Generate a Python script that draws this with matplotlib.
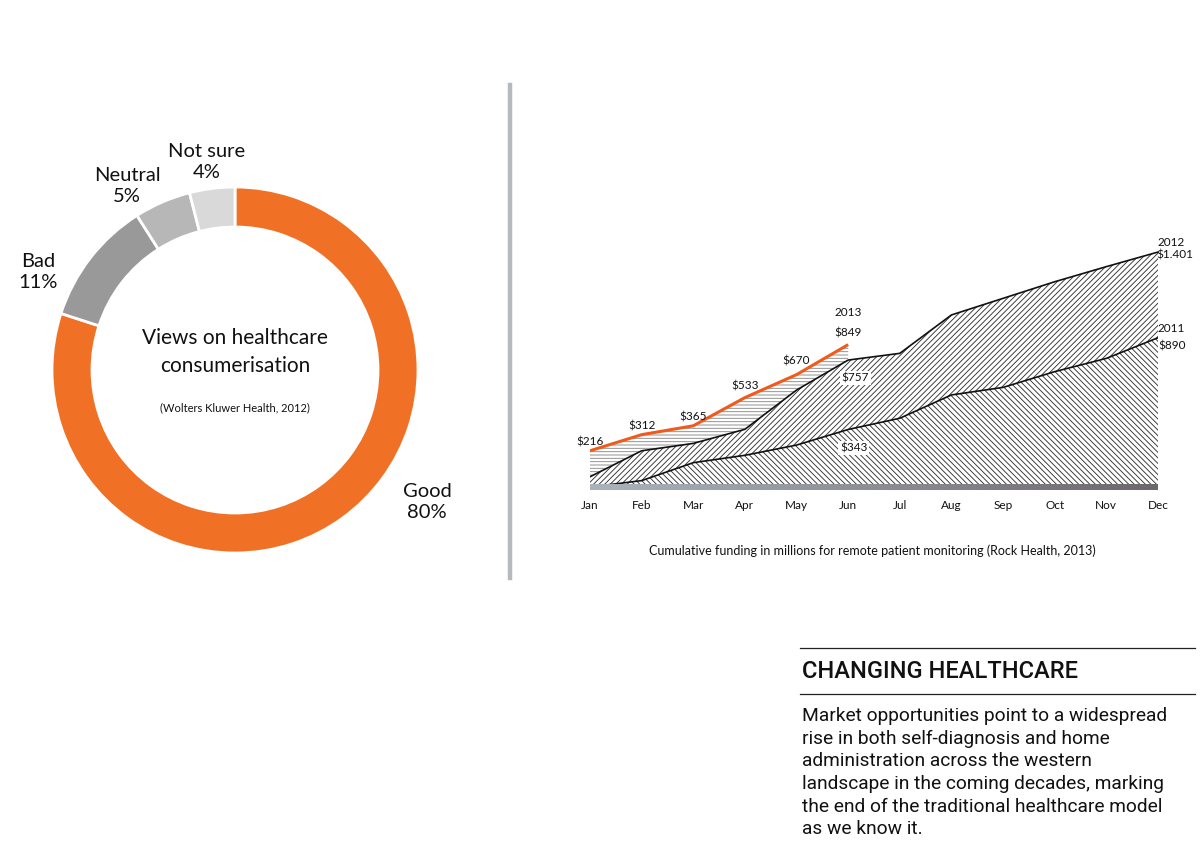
import matplotlib.pyplot as plt
import numpy as np
from matplotlib.colors import LinearSegmentedColormap

plt.rcParams['font.family'] = ['Lato', 'DejaVu Sans']
plt.rcParams['hatch.linewidth'] = 0.65

# Donut data
views = ['Good', 'Bad', 'Neutral', 'Not sure']
shares = [80, 11, 5, 4]
view_colors = ['#f07125', '#999999', '#b7b7b7', '#d9d9d9']

# Cumulative funding data (millions)
months = ['Jan', 'Feb', 'Mar', 'Apr', 'May', 'Jun',
          'Jul', 'Aug', 'Sep', 'Oct', 'Nov', 'Dec']
fund_2011 = [0, 38, 145, 189, 250, 343, 410, 549, 594, 688, 767, 890]
fund_2012 = [61, 216, 260, 344, 578, 757, 797, 1026, 1125, 1224, 1314, 1401]
fund_2013 = [216, 312, 365, 533, 670, 849]

fig = plt.figure(figsize=(12, 8.61), dpi=100)
W, H = 1200, 861

# ---- donut ----
axd = fig.add_axes([35 / W, (H - 570) / H, 400 / W, 400 / H])
axd.pie(shares, colors=view_colors, startangle=90, counterclock=False,
        radius=183, wedgeprops=dict(width=40, edgecolor='white', linewidth=2))
axd.set_xlim(-200, 200)
axd.set_ylim(-200, 200)
axd.axis('off')

label_pos = {'Good': (192, -132), 'Bad': (-197, 98),
             'Neutral': (-108, 184), 'Not sure': (-28, 208)}
for name, val in zip(views, shares):
    x, y = label_pos[name]
    axd.text(x, y, f'{name}\n{val}%', ha='center', va='center',
             fontsize=14.5, color='#111111', linespacing=1.3)

axd.text(0, 18, 'Views on healthcare\nconsumerisation', ha='center',
         va='center', fontsize=15, color='#111111', linespacing=1.55)
axd.text(0, -38, '(Wolters Kluwer Health, 2012)', ha='center', va='center',
         fontsize=8, color='#111111')

# separator
fig.add_artist(plt.Line2D([510 / W, 510 / W], [1 - 85 / H, 1 - 578 / H],
                          color='#b5babf', linewidth=3.2))

# ---- area chart ----
px = 0.1677  # pixels per million
y_lo, y_hi = -22, (487 - 230) / px
axa = fig.add_axes([590 / W, (H - 487 - 22 * px) / H, 568 / W,
                    (y_hi - y_lo) * px / H])
x = np.arange(len(months))
x13 = x[:len(fund_2013)]

axa.fill_between(x13, 0, fund_2013, facecolor='white', edgecolor='#8a8a8a',
                 hatch='-----', linewidth=0)
axa.fill_between(x, fund_2011, fund_2012, facecolor='white',
                 edgecolor='#333333', hatch='//////', linewidth=0)
axa.fill_between(x, 0, fund_2011, facecolor='white', edgecolor='#333333',
                 hatch='\\\\\\\\\\\\', linewidth=0)
axa.plot(x, fund_2012, color='#111111', linewidth=1.2)
axa.plot(x, fund_2011, color='#111111', linewidth=1.2)
axa.plot(x13, fund_2013, color='#f05a1a', linewidth=2.2, solid_capstyle='butt')

# gradient baseline bar
grad = np.linspace(0, 1, 256).reshape(1, -1)
bar_cmap = LinearSegmentedColormap.from_list('bar', ['#aab3bb', '#8d8e94', '#6c676d'])
axa.imshow(grad, cmap=bar_cmap, aspect='auto', extent=(0, 11, -20, 10),
           zorder=5)

axa.set_xlim(0, 11)
axa.set_ylim(y_lo, y_hi)
for s in axa.spines.values():
    s.set_visible(False)
axa.set_yticks([])
axa.set_xticks(x)
axa.set_xticklabels(months, fontsize=8.5, color='#111111')
axa.tick_params(axis='x', length=0, pad=6.5)

fs = 8.5
# value labels for 2013
up = [6, 6, 6.5, 8.5, 9.5, 8.5]
for i, (v, d) in enumerate(zip(fund_2013, up)):
    axa.annotate(f'${v}', (i, v), xytext=(0, d), textcoords='offset points',
                 ha='center', va='center', fontsize=fs, color='#111111')
axa.annotate('2013', (5, fund_2013[5]), xytext=(0, 23),
             textcoords='offset points', ha='center', va='center',
             fontsize=fs, color='#111111')

box = dict(boxstyle='square,pad=0.15', facecolor='white', edgecolor='none')
axa.annotate(f'${fund_2012[5]}', (5, fund_2012[5]), xytext=(5, -13),
             textcoords='offset points', ha='center', va='center',
             fontsize=fs, color='#111111', bbox=box, zorder=6)
axa.annotate(f'${fund_2011[5]}', (5, fund_2011[5]), xytext=(4, -13.5),
             textcoords='offset points', ha='center', va='center',
             fontsize=fs, color='#111111', bbox=box, zorder=6)

axa.annotate('2012', (11, fund_2012[-1]), xytext=(0, 7),
             textcoords='offset points', ha='left', va='center',
             fontsize=fs, color='#111111', annotation_clip=False)
axa.annotate('$1.401', (11, fund_2012[-1]), xytext=(-1, -2),
             textcoords='offset points', ha='left', va='center',
             fontsize=fs, color='#111111', annotation_clip=False)
axa.annotate('2011', (11, fund_2011[-1]), xytext=(0, 7),
             textcoords='offset points', ha='left', va='center',
             fontsize=fs, color='#111111', annotation_clip=False)
axa.annotate('$890', (11, fund_2011[-1]), xytext=(0, -6),
             textcoords='offset points', ha='left', va='center',
             fontsize=fs, color='#111111', annotation_clip=False)

fig.text(872 / W, 1 - 551 / H,
         'Cumulative funding in millions for remote patient monitoring (Rock Health, 2013)',
         ha='center', va='center', fontsize=9, color='#111111')

# ---- text block ----
fig.add_artist(plt.Line2D([800 / W, 1195 / W], [1 - 648 / H, 1 - 648 / H],
                          color='#222222', linewidth=0.9))
fig.add_artist(plt.Line2D([800 / W, 1195 / W], [1 - 694 / H, 1 - 694 / H],
                          color='#222222', linewidth=0.9))
fig.text(802 / W, 1 - 672 / H, 'CHANGING HEALTHCARE', ha='left', va='center',
         fontsize=17, family='Roboto', fontweight='medium', color='#111111')
body = ('Market opportunities point to a widespread\n'
        'rise in both self-diagnosis and home\n'
        'administration across the western\n'
        'landscape in the coming decades, marking\n'
        'the end of the traditional healthcare model\n'
        'as we know it.')
fig.text(802 / W, 1 - 707 / H, body, ha='left', va='top', fontsize=13.8,
         family='Roboto', color='#111111', linespacing=1.33)

fig.savefig('out.png', dpi=100, facecolor='white')
